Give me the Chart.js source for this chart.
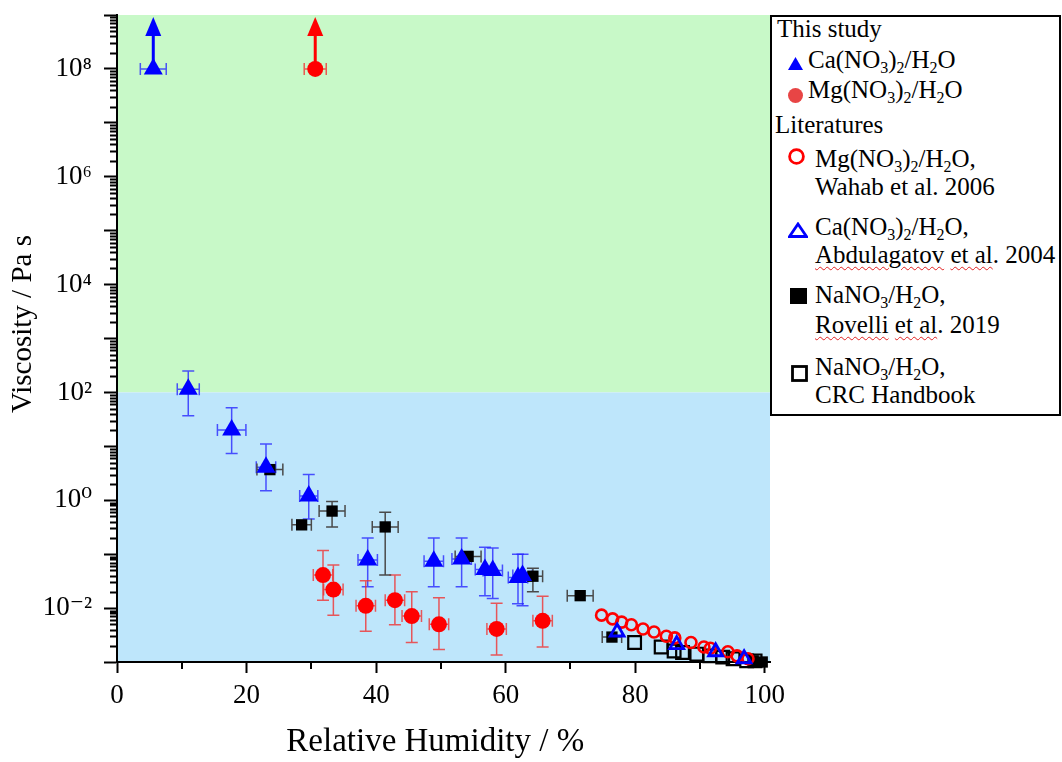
<!DOCTYPE html>
<html>
<head>
<meta charset="utf-8">
<script src="https://cdn.jsdelivr.net/npm/chart.js@4/dist/chart.umd.min.js"></script>
<style>
  body { margin: 0; background: #fff; }
  #wrap { position: relative; width: 1062px; height: 762px; }
  #legend {
    position: absolute; left: 770px; top: 15px; width: 287px; height: 397px;
    border: 2px solid #000; background: #fff;
    font-family: Tinos, 'Liberation Serif', 'Times New Roman', 'DejaVu Serif', serif; font-size: 25px; color: #000;
  }
  #legend .t { position: absolute; white-space: nowrap; line-height: 1; }
  #legend svg { position: absolute; }
  #legend sub { font-size: 16px; line-height: 0; vertical-align: -5px; }
  .wavy { text-decoration: underline wavy #e02020; text-decoration-thickness: 1px; text-underline-offset: 3px; }
</style>
</head>
<body>
<div id="wrap">
  <canvas id="chart" width="1062" height="762"></canvas>
  <div id="legend">
    <div class="t" style="left:5px;top:-1px">This study</div>
    <svg style="left:16px;top:40px" width="15" height="13"><polygon points="7.5,0 15,13 0,13" fill="#0000ff"/></svg>
    <div class="t" style="left:36px;top:30px">Ca(NO<sub>3</sub>)<sub>2</sub>/H<sub>2</sub>O</div>
    <svg style="left:16px;top:71px" width="15" height="15"><circle cx="7.5" cy="7.5" r="7.5" fill="#e84545"/></svg>
    <div class="t" style="left:36px;top:60px">Mg(NO<sub>3</sub>)<sub>2</sub>/H<sub>2</sub>O</div>
    <div class="t" style="left:3px;top:95px">Literatures</div>
    <svg style="left:16px;top:131px" width="17" height="17"><circle cx="8.5" cy="8.5" r="6.9" fill="none" stroke="#ff0000" stroke-width="2.8"/></svg>
    <div class="t" style="left:43px;top:129px">Mg(NO<sub>3</sub>)<sub>2</sub>/H<sub>2</sub>O,</div>
    <div class="t" style="left:43px;top:157px">Wahab et al. 2006</div>
    <svg style="left:16px;top:205px" width="20" height="16"><polygon points="10,2 18.5,14.5 1.5,14.5" fill="none" stroke="#0000ff" stroke-width="2.8"/></svg>
    <div class="t" style="left:43px;top:197px">Ca(NO<sub>3</sub>)<sub>2</sub>/H<sub>2</sub>O,</div>
    <div class="t" style="left:43px;top:225px"><span class="wavy">Abdulagatov</span> <span class="wavy">et al</span>. 2004</div>
    <svg style="left:18px;top:271px" width="17" height="16"><rect x="0" y="0" width="17" height="16" fill="#000"/></svg>
    <div class="t" style="left:43px;top:265px">NaNO<sub>3</sub>/H<sub>2</sub>O,</div>
    <div class="t" style="left:43px;top:295px"><span class="wavy">Rovelli</span> <span class="wavy">et al</span>. 2019</div>
    <svg style="left:19px;top:348px" width="17" height="17"><rect x="1.5" y="1.5" width="14" height="14" fill="none" stroke="#000" stroke-width="2.8"/></svg>
    <div class="t" style="left:43px;top:337px">NaNO<sub>3</sub>/H<sub>2</sub>O,</div>
    <div class="t" style="left:43px;top:365px">CRC Handbook</div>
  </div>
</div>
<script>
// this study, Ca(NO3)2
const caRH     = [5.6, 11.0, 17.7, 23.0, 29.6, 38.7, 48.9, 53.2, 56.8, 58.0, 61.9, 62.6];
const caVisc   = [1e8, 115, 20, 4.1, 1.2, 0.078, 0.074, 0.081, 0.052, 0.050, 0.037, 0.040];
const caLow    = [null, 37, 7.4, 1.5, 0.45, 0.025, 0.025, 0.025, 0.017, 0.015, 0.012, 0.011];
const caHigh   = [null, 250, 52, 11, 3.0, 0.20, 0.20, 0.20, 0.135, 0.13, 0.10, 0.10];
const caRHerr  = [2, 1.7, 2.2, 1.5, 1.4, 1.5, 1.5, 1.5, 1.5, 1.5, 1.5, 1.5];

// this study, Mg(NO3)2
const mgRH     = [30.6, 31.8, 33.4, 38.4, 42.9, 45.5, 49.7, 58.6, 65.7];
const mgVisc   = [1e8, 0.041, 0.022, 0.011, 0.014, 0.0071, 0.0050, 0.0041, 0.0058];
const mgLow    = [null, 0.014, 0.0074, 0.0037, 0.0049, 0.0023, 0.0017, 0.00135, 0.0019];
const mgHigh   = [null, 0.117, 0.063, 0.032, 0.041, 0.020, 0.0155, 0.0123, 0.0166];
const mgRHerr  = [1.7, 1.5, 1.5, 1.5, 1.5, 1.5, 1.5, 1.5, 1.5];

// literature
const wahabRH   = [74.8, 76.5, 77.9, 79.4, 81.2, 82.9, 84.8, 86.1, 88.6, 90.6, 91.6, 94.3, 95.7, 97.4];
const wahabVisc = [0.0074, 0.0063, 0.0055, 0.0049, 0.0041, 0.0036, 0.0030, 0.0028, 0.0023, 0.0019, 0.0018, 0.00155, 0.0013, 0.00115];
const abdRH     = [77.2, 86.4, 92.4, 96.8];
const abdVisc   = [0.0036, 0.0021, 0.00155, 0.00115];
const rovRH     = [23.6, 28.5, 33.2, 41.4, 54.2, 64.2, 71.5, 76.4, 98.2, 99.6];
const rovVisc   = [3.7, 0.35, 0.63, 0.32, 0.091, 0.039, 0.017, 0.0029, 0.00105, 0.0010];
const rovLow    = [null, null, 0.32, 0.041, null, 0.020, null, null, null, null];
const rovHigh   = [null, null, 0.95, 0.60, null, 0.055, null, null, null, null];
const rovRHerr  = [2, 1.5, 2, 2, 2, 1.5, 2, 1.5, 0, 0];
const crcRH     = [79.9, 84.0, 86.0, 87.3, 89.5, 91.5, 93.5, 95.1, 97.2, 98.5];
const crcVisc   = [0.0023, 0.0019, 0.0016, 0.0015, 0.0014, 0.0013, 0.00123, 0.00115, 0.00105, 0.00105];

// axes
const xTicks = [0, 20, 40, 60, 80, 100];
const xMinor = [10, 30, 50, 70, 90];
const yDecades = [-3, -2, -1, 0, 1, 2, 3, 4, 5, 6, 7, 8, 9];
const yLabelExps = [-2, 0, 2, 4, 6, 8];
const limitVisc = 100;   // boundary between the two shaded regions

const FONT = "Tinos, 'Liberation Serif', 'Times New Roman', 'DejaVu Serif', serif";
Chart.defaults.font.family = FONT;
const supMap = {'-': '\u207B', '0': '\u2070', '1': '\u00B9', '2': '\u00B2', '3': '\u00B3', '4': '\u2074', '5': '\u2075', '6': '\u2076', '7': '\u2077', '8': '\u2078', '9': '\u2079'};
const toSup = n => String(n).split('').map(c => supMap[c]).join('');

const pts = (xs, ys) => xs.map((x, i) => ({x: x, y: ys[i]}));

const errSets = [
  {rh: caRH, v: caVisc, lo: caLow, hi: caHigh, xe: caRHerr, color: 'rgba(40,40,255,0.8)'},
  {rh: mgRH, v: mgVisc, lo: mgLow, hi: mgHigh, xe: mgRHerr, color: 'rgba(240,50,50,0.8)'},
  {rh: rovRH, v: rovVisc, lo: rovLow, hi: rovHigh, xe: rovRHerr, color: '#4a4a4a'}
];

const decor = {
  id: 'decor',
  beforeDraw(chart) {
    const {ctx, chartArea: a, scales: {y}} = chart;
    const yb = y.getPixelForValue(limitVisc);
    ctx.save();
    ctx.fillStyle = '#c8f9c8';
    ctx.fillRect(a.left, a.top, a.right - a.left, yb - a.top);
    ctx.fillStyle = '#bee6fb';
    ctx.fillRect(a.left, yb, a.right - a.left, a.bottom - yb);
    ctx.restore();
  },
  beforeDatasetsDraw(chart) {
    const {ctx, chartArea: a, scales: {x, y}} = chart;
    ctx.save();
    ctx.lineWidth = 1.5;
    errSets.forEach(s => {
      ctx.strokeStyle = s.color;
      s.rh.forEach((r, i) => {
        const px = x.getPixelForValue(r), py = y.getPixelForValue(s.v[i]);
        ctx.beginPath();
        if (s.lo[i] != null) {
          const t = y.getPixelForValue(s.hi[i]), b = y.getPixelForValue(s.lo[i]);
          ctx.moveTo(px, t); ctx.lineTo(px, b);
          ctx.moveTo(px - 6, t); ctx.lineTo(px + 6, t);
          ctx.moveTo(px - 6, b); ctx.lineTo(px + 6, b);
        }
        if (s.xe[i]) {
          const l = x.getPixelForValue(r - s.xe[i]), rr = x.getPixelForValue(r + s.xe[i]);
          ctx.moveTo(l, py); ctx.lineTo(rr, py);
          ctx.moveTo(l, py - 6); ctx.lineTo(l, py + 6);
          ctx.moveTo(rr, py - 6); ctx.lineTo(rr, py + 6);
        }
        ctx.stroke();
      });
    });
    // lower-limit arrows on the two glassy points
    [[caRH[0], caVisc[0], '#0000ff'], [mgRH[0], mgVisc[0], '#ff0000']].forEach(([r, v, c]) => {
      const px = x.getPixelForValue(r), py = y.getPixelForValue(v);
      const tip = a.top + 2;
      ctx.strokeStyle = c; ctx.fillStyle = c; ctx.lineWidth = 3;
      ctx.beginPath(); ctx.moveTo(px, py); ctx.lineTo(px, tip + 16); ctx.stroke();
      ctx.beginPath(); ctx.moveTo(px, tip); ctx.lineTo(px + 8, tip + 19); ctx.lineTo(px - 8, tip + 19); ctx.closePath(); ctx.fill();
    });
    ctx.restore();
  },
  afterDraw(chart) {
    const {ctx, chartArea: a, scales: {x, y}} = chart;
    ctx.save();
    ctx.strokeStyle = '#000';
    ctx.beginPath();
    yDecades.slice(0, -1).forEach(e => {
      for (let k = 2; k <= 9; k++) {
        const py = Math.round(y.getPixelForValue(k * Math.pow(10, e))) + 0.5;
        ctx.moveTo(a.left - 1, py); ctx.lineTo(a.left - 7, py);
      }
    });
    xMinor.forEach(v => {
      const px = Math.round(x.getPixelForValue(v));
      ctx.moveTo(px, a.bottom + 1); ctx.lineTo(px, a.bottom + 7);
    });
    ctx.lineWidth = 2;
    ctx.stroke();
    ctx.restore();
  }
};

function build() {
  new Chart(document.getElementById('chart'), {
    type: 'scatter',
    data: {
      datasets: [
        {label: 'Ca(NO3)2/H2O', data: pts(caRH, caVisc), pointStyle: 'triangle', pointRadius: 11,
         backgroundColor: '#0000ff', borderColor: '#0000ff', borderWidth: 0, clip: false},
        {label: 'Mg(NO3)2/H2O', data: pts(mgRH, mgVisc), pointStyle: 'circle', pointRadius: 8,
         backgroundColor: '#ff0000', borderColor: '#ff0000', borderWidth: 0, clip: false},
        {label: 'Ca(NO3)2/H2O, Abdulagatov et al. 2004', data: pts(abdRH, abdVisc), pointStyle: 'triangle', pointRadius: 8,
         backgroundColor: 'rgba(0,0,0,0)', borderColor: '#0000ff', borderWidth: 2.8, clip: false},
        {label: 'Mg(NO3)2/H2O, Wahab et al. 2006', data: pts(wahabRH, wahabVisc), pointStyle: 'circle', pointRadius: 5.5,
         backgroundColor: 'rgba(0,0,0,0)', borderColor: '#ff0000', borderWidth: 2.6, clip: false},
        {label: 'NaNO3/H2O, Rovelli et al. 2019', data: pts(rovRH, rovVisc), pointStyle: 'rect', pointRadius: 8,
         backgroundColor: '#000', borderColor: '#000', borderWidth: 0, clip: false},
        {label: 'NaNO3/H2O, CRC Handbook', data: pts(crcRH, crcVisc), pointStyle: 'rect', pointRadius: 9,
         backgroundColor: 'rgba(0,0,0,0)', borderColor: '#000', borderWidth: 2.2, clip: false}
      ]
    },
    options: {
      responsive: false,
      animation: false,
      layout: {padding: {left: 0, top: 15, right: 292, bottom: 0}},
      plugins: {legend: {display: false}, tooltip: {enabled: false}},
      scales: {
        x: {
          type: 'linear', min: 0, max: 100.8,
          afterBuildTicks: s => { s.ticks = xTicks.map(v => ({value: v})); },
          afterFit: s => { s.height = 100; s.paddingLeft = 0; s.paddingRight = 0; },
          ticks: {font: {family: FONT, size: 27}, color: '#000', padding: 7, maxRotation: 0, autoSkip: false},
          grid: {drawOnChartArea: false, tickLength: 11, tickWidth: 2, tickColor: '#000'},
          border: {color: '#000', width: 2},
          title: {display: true, text: 'Relative Humidity / %  ', font: {family: FONT, size: 33}, color: '#000', padding: {top: 0, bottom: 0}}
        },
        y: {
          type: 'logarithmic', min: 1e-3, max: 1e9,
          afterBuildTicks: s => { s.ticks = yDecades.map(e => ({value: Math.pow(10, e)})); },
          afterFit: s => { s.width = 117; s.paddingTop = 0; s.paddingBottom = 0; },
          ticks: {
            font: {family: FONT, size: 27}, color: '#000', padding: 12, autoSkip: false,
            callback: v => {
              const e = Math.round(Math.log10(v));
              return yLabelExps.includes(e) ? '10' + toSup(e) : '';
            }
          },
          grid: {drawOnChartArea: false, tickLength: 13, tickWidth: 2, tickColor: '#000'},
          border: {color: '#000', width: 2},
          title: {display: true, text: '    Viscosity / Pa s', font: {family: FONT, size: 29}, color: '#000', padding: {top: 6, bottom: 0}}
        }
      }
    },
    plugins: [decor]
  });
}

if (document.fonts && document.fonts.ready) {
  document.fonts.load('27px Tinos').then(build, build);
} else {
  build();
}
</script>
</body>
</html>
